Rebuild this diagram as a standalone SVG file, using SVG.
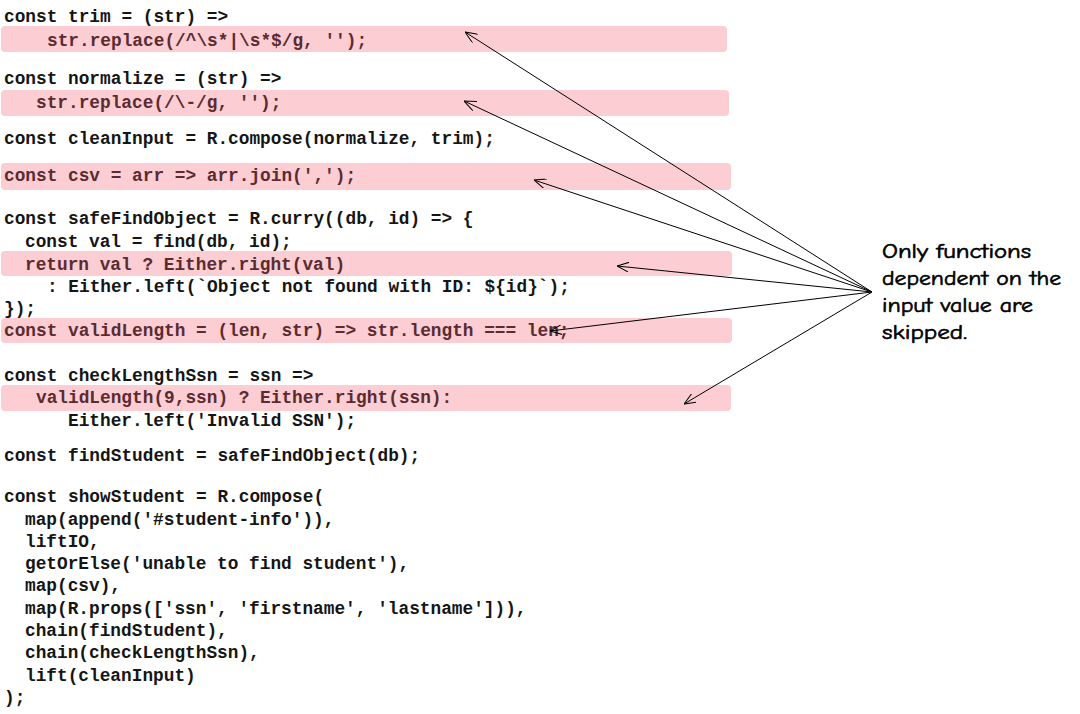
<svg xmlns="http://www.w3.org/2000/svg" width="1080" height="714" viewBox="0 0 1080 714">
<style>
.code{font-family:"Liberation Mono","Courier New",monospace;font-weight:bold;font-size:17.8px;fill:#151515}
.hl{fill:#5a2b30}
.box{fill:#fccdd2}
.note{font-family:"Comic Sans MS","Comic Neue","Noto Sans",sans-serif;font-size:20px;fill:#000;stroke:#000;stroke-width:0.6}
.conn{stroke:#000;stroke-width:1;fill:none}
</style>
<defs>
<marker id="arr" viewBox="0 0 12 10" refX="12" refY="5" markerWidth="12" markerHeight="10" markerUnits="userSpaceOnUse" orient="auto">
<path d="M0,0 L12,5 L0,10" fill="none" stroke="#000" stroke-width="1"/>
</marker>
</defs>
<rect width="1080" height="714" fill="#fff"/>
<g id="highlights">
<rect class="box" x="1" y="26" width="726" height="26" rx="4"/>
<rect class="box" x="1" y="90" width="728" height="26" rx="4"/>
<rect class="box" x="1" y="163" width="730" height="27" rx="4"/>
<rect class="box" x="1" y="251" width="731" height="25" rx="4"/>
<rect class="box" x="1" y="318" width="731" height="25" rx="4"/>
<rect class="box" x="1" y="385" width="730" height="26" rx="4"/>
</g>
<g id="code">
<text class="code" x="4" y="22">const trim = (str) =&gt;</text>
<text class="code hl" x="47" y="46">str.replace(/^\s*|\s*$/g, '');</text>
<text class="code" x="4" y="84">const normalize = (str) =&gt;</text>
<text class="code hl" x="36" y="108">str.replace(/\-/g, '');</text>
<text class="code" x="4" y="144">const cleanInput = R.compose(normalize, trim);</text>
<text class="code hl" x="4" y="181">const csv = arr =&gt; arr.join(',');</text>
<text class="code" x="4" y="224">const safeFindObject = R.curry((db, id) =&gt; {</text>
<text class="code" x="25" y="247">const val = find(db, id);</text>
<text class="code hl" x="25" y="270">return val ? Either.right(val)</text>
<text class="code" x="47" y="292">: Either.left(`Object not found with ID: ${id}`);</text>
<text class="code" x="4" y="314">});</text>
<text class="code hl" x="4" y="336">const validLength = (len, str) =&gt; str.length === len;</text>
<text class="code" x="4" y="381">const checkLengthSsn = ssn =&gt;</text>
<text class="code hl" x="36" y="403">validLength(9,ssn) ? Either.right(ssn):</text>
<text class="code" x="68" y="426">Either.left('Invalid SSN');</text>
<text class="code" x="4" y="461">const findStudent = safeFindObject(db);</text>
<text class="code" x="4" y="502">const showStudent = R.compose(</text>
<text class="code" x="25" y="525">map(append('#student-info')),</text>
<text class="code" x="25" y="547">liftIO,</text>
<text class="code" x="25" y="569">getOrElse('unable to find student'),</text>
<text class="code" x="25" y="591">map(csv),</text>
<text class="code" x="25" y="614">map(R.props(['ssn', 'firstname', 'lastname'])),</text>
<text class="code" x="25" y="636">chain(findStudent),</text>
<text class="code" x="25" y="658">chain(checkLengthSsn),</text>
<text class="code" x="25" y="681">lift(cleanInput)</text>
<text class="code" x="4" y="703">);</text>
</g>
<g id="note">
<text class="note" x="882" y="258" textLength="149" lengthAdjust="spacingAndGlyphs">Only functions</text>
<text class="note" x="882" y="285" textLength="179" lengthAdjust="spacingAndGlyphs">dependent on the</text>
<text class="note" x="882" y="312" textLength="151" lengthAdjust="spacingAndGlyphs">input value are</text>
<text class="note" x="882" y="339" textLength="85" lengthAdjust="spacingAndGlyphs">skipped.</text>
</g>
<g id="connectors">
<line class="conn" x1="872" y1="292" x2="465" y2="32" marker-end="url(#arr)"/>
<line class="conn" x1="872" y1="292" x2="464" y2="101" marker-end="url(#arr)"/>
<line class="conn" x1="872" y1="292" x2="534" y2="180" marker-end="url(#arr)"/>
<line class="conn" x1="872" y1="292" x2="617" y2="266" marker-end="url(#arr)"/>
<line class="conn" x1="872" y1="292" x2="550" y2="331" marker-end="url(#arr)"/>
<line class="conn" x1="872" y1="292" x2="684" y2="404" marker-end="url(#arr)"/>
</g>
</svg>
